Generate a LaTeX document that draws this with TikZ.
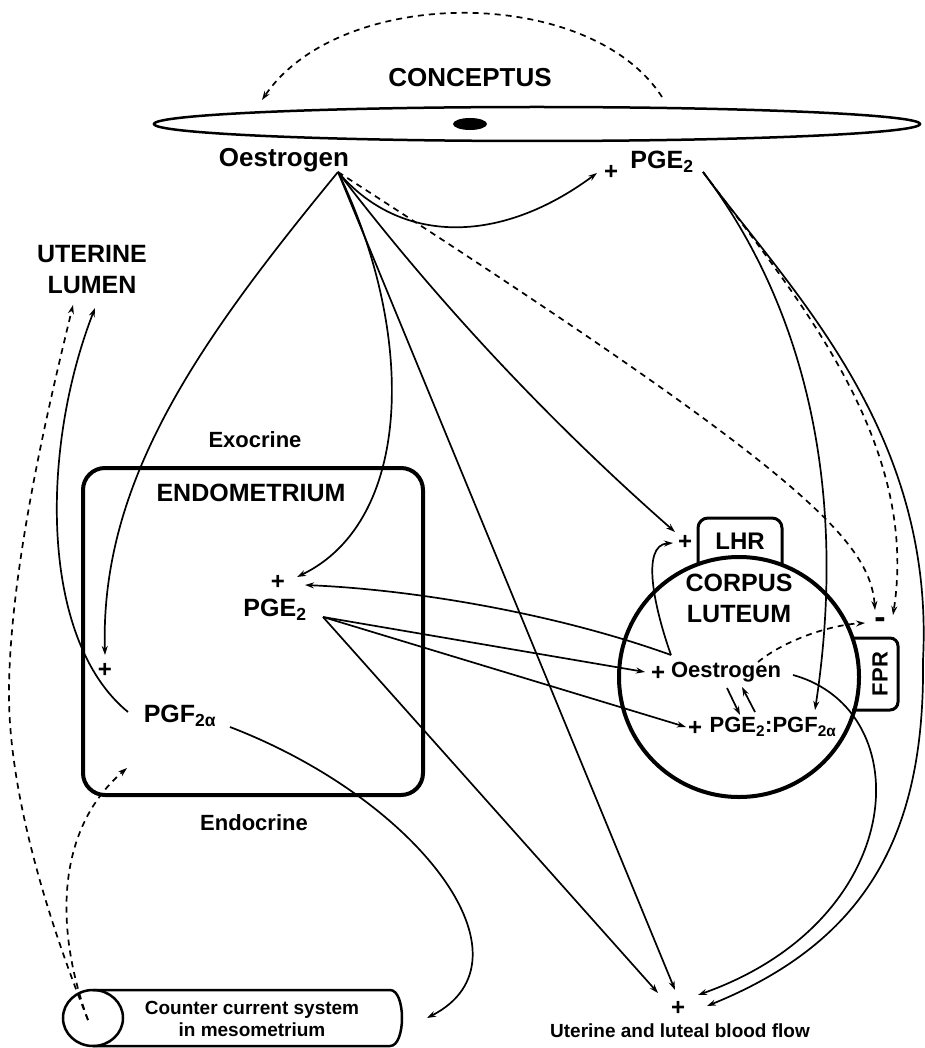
\documentclass[tikz,border=0pt]{standalone}
\usepackage{fontspec}
\setmainfont{Liberation Sans}
\usetikzlibrary{arrows.meta}

\begin{document}
\begin{tikzpicture}[
  x=1pt, y=-1pt,
  conn/.style     = {line width=1.7pt, -{Stealth[length=9pt, width=6pt]}},
  dconn/.style    = {conn, dash pattern=on 6pt off 5pt},
  organ/.style    = {draw, line width=4pt},
  biglbl/.style   = {font=\bfseries\fontsize{25}{31}\selectfont, align=center},
  midlbl/.style   = {font=\bfseries\fontsize{22}{26}\selectfont},
  smalllbl/.style = {font=\bfseries\fontsize{19}{22}\selectfont, align=center},
  plussign/.style = {font=\bfseries\fontsize{24}{24}\selectfont, inner sep=0pt},
]
\useasboundingbox (0,0) rectangle (924,1048);

%% -- Conceptus -------------------------------------------------------------
\draw[line width=2.5pt] (537,124) ellipse [x radius=383, y radius=17];
\fill (470,124) ellipse [x radius=17, y radius=6];
\node[biglbl, font=\bfseries\fontsize{26}{30}\selectfont] (conceptus) at (470,78) {CONCEPTUS};
\node[biglbl, font=\bfseries\fontsize{26}{30}\selectfont] (oesC) at (284,160) {Oestrogen};
\node[plussign] (plusC) at (611,172) {+};
\node[biglbl] (pgeC) at (662,162) {PGE\textsubscript{2}};

\coordinate (arcR)    at (662,97);
\coordinate (arcL)    at (262,100);
\coordinate (oesSrc)  at (338,172);
\coordinate (pgeSrc)  at (703,172);
\coordinate (pgeCin)  at (597,173);

%% -- Uterine lumen -----------------------------------------------------------
\node[biglbl] (lumen) at (92,270) {UTERINE\\LUMEN};
\coordinate (lumDash)  at (73,305);
\coordinate (lumSolid) at (95,308);

%% -- Endometrium -------------------------------------------------------------
\node[organ, rounded corners=22pt, minimum width=340pt, minimum height=327pt]
  (endo) at (253,631.5) {};
\node[midlbl] (exo)    at (255,440) {Exocrine};
\node[midlbl] (endocr) at (254,823) {Endocrine};
\node[biglbl] (endoTitle) at (251,493) {ENDOMETRIUM};
\node[plussign] (plusE1) at (278,582) {+};
\node[biglbl]   (pgeE)   at (275,610) {PGE\textsubscript{2}};
\node[plussign] (plusE2) at (105,670) {+};
\node[biglbl]   (pgfE)   at (180,716) {PGF\textsubscript{2α}};

\coordinate (pgeEin1)  at (297,577);
\coordinate (pgeEin2)  at (305,585);
\coordinate (pgeEsrc)  at (323,617);
\coordinate (plusE2in) at (105,655);
\coordinate (pgfEl)    at (128,712);
\coordinate (pgfEr)    at (230,727);
\coordinate (endoIn)   at (127,768);

%% -- Corpus luteum -----------------------------------------------------------
\node[organ, circle, minimum size=240pt] (cl) at (739,677) {};
\draw[line width=3pt, rounded corners=10pt] (698,565) |- (782,518) -- (782,565);
\draw[line width=3pt, rounded corners=8pt] (852,638) -- (898,638) -- (898,710) -- (852,710);
\node[biglbl, font=\bfseries\fontsize{24}{28}\selectfont] (lhr) at (740,541) {LHR};
\node[midlbl, rotate=90] (fpr) at (880,674) {FPR};
\node[biglbl] (clTitle) at (739,598) {CORPUS\\LUTEUM};
\node[plussign] (plusL) at (685,542) {+};
\node[plussign] (plusO) at (658,673) {+};
\node[midlbl]   (clOes) at (726,672) {Oestrogen};
\node[plussign] (plusP) at (695,728) {+};
\node[midlbl]   (clPG)  at (773,727) {PGE\textsubscript{2}:PGF\textsubscript{2α}};
\node[plussign, font=\bfseries\fontsize{34}{34}\selectfont] (minus) at (880,623) {-};

\coordinate (lhrIn)   at (675,532);
\coordinate (plusLin) at (673,543);
\coordinate (clOesL)  at (671,655);
\coordinate (clOesR)  at (793,675);
\coordinate (clOesD)  at (758,662);
\coordinate (plusOin) at (645,672);
\coordinate (plusPin) at (686,727);
\coordinate (clPGin)  at (815,710);
\coordinate (fprIn1)  at (875,610);
\coordinate (fprIn2)  at (893,615);
\coordinate (fprIn3)  at (865,623);
\coordinate (oesDn1)  at (727,688);
\coordinate (oesDn2)  at (740,715);
\coordinate (pgUp1)   at (755,712);
\coordinate (pgUp2)   at (742,687);

%% -- Counter current system --------------------------------------------------
\draw[line width=2.5pt] (93,990) -- (390,990)
  .. controls (406,990) and (406,1046) .. (390,1046) -- (93,1046);
\draw[line width=2.5pt] (93,1018) ellipse [x radius=30, y radius=28];
\node[smalllbl] (ccs) at (252,1019) {Counter current system\\in mesometrium};
\coordinate (ccsIn)  at (427,1018);
\coordinate (ccsSrc) at (88,1020);

%% -- Blood flow ----------------------------------------------------------------
\node[plussign] (bplus) at (678,1008) {+};
\node[smalllbl] (bflow) at (680,1031) {Uterine and luteal blood flow};
\coordinate (bIn1) at (658,993);
\coordinate (bIn2) at (675,990);
\coordinate (bIn3) at (698,995);
\coordinate (bIn4) at (707,1006);

%% -- Connectors: conceptus ---------------------------------------------------
\draw[dconn] (arcR) .. controls (590,-15) and (340,-15) .. (arcL);
\draw[conn]  (oesSrc) .. controls (200,340) and (100,480) .. (plusE2in);
\draw[conn]  (oesSrc) .. controls (415,330) and (415,520) .. (pgeEin1);
\draw[conn]  (oesSrc) -- (bIn2);
\draw[conn]  (oesSrc) .. controls (438,303) and (551,423) .. (lhrIn);
\draw[dconn] (oesSrc) .. controls (800,470) and (870,540) .. (fprIn1);
\draw[conn]  (oesSrc) .. controls (400,245) and (500,245) .. (pgeCin);

\draw[conn]  (pgeSrc) .. controls (800,300) and (850,480) .. (clPGin);
\draw[dconn] (pgeSrc) .. controls (795,295) and (920,440) .. (fprIn2);
\draw[conn]  (pgeSrc) .. controls (790,290) and (935,430) .. (923,660)
                      .. controls (925,830) and (870,940) .. (bIn4);

%% -- Connectors: corpus luteum -----------------------------------------------
\draw[conn]  (clOesL) .. controls (655,610) and (640,545) .. (plusLin);
\draw[conn]  (clOesL) .. controls (560,615) and (420,590) .. (pgeEin2);
\draw[conn]  (clOesR) .. controls (920,710) and (910,920) .. (bIn3);
\draw[dconn] (clOesD) .. controls (785,640) and (830,625) .. (fprIn3);
\draw[conn]  (oesDn1) -- (oesDn2);
\draw[conn]  (pgUp1) -- (pgUp2);

%% -- Connectors: endometrium -------------------------------------------------
\draw[conn] (pgeEsrc) -- (plusOin);
\draw[conn] (pgeEsrc) -- (plusPin);
\draw[conn] (pgeEsrc) -- (bIn1);
\draw[conn] (pgfEl) .. controls (40,640) and (40,450) .. (lumSolid);
\draw[conn] (pgfEr) .. controls (420,800) and (540,960) .. (ccsIn);

%% -- Connectors: mesometrium -------------------------------------------------
\draw[dconn] (ccsSrc) .. controls (40,900) and (8,780) .. (9,690)
                      .. controls (10,560) and (55,380) .. (lumDash);
\draw[dconn] (ccsSrc) .. controls (55,930) and (55,830) .. (endoIn);

\end{tikzpicture}
\end{document}
